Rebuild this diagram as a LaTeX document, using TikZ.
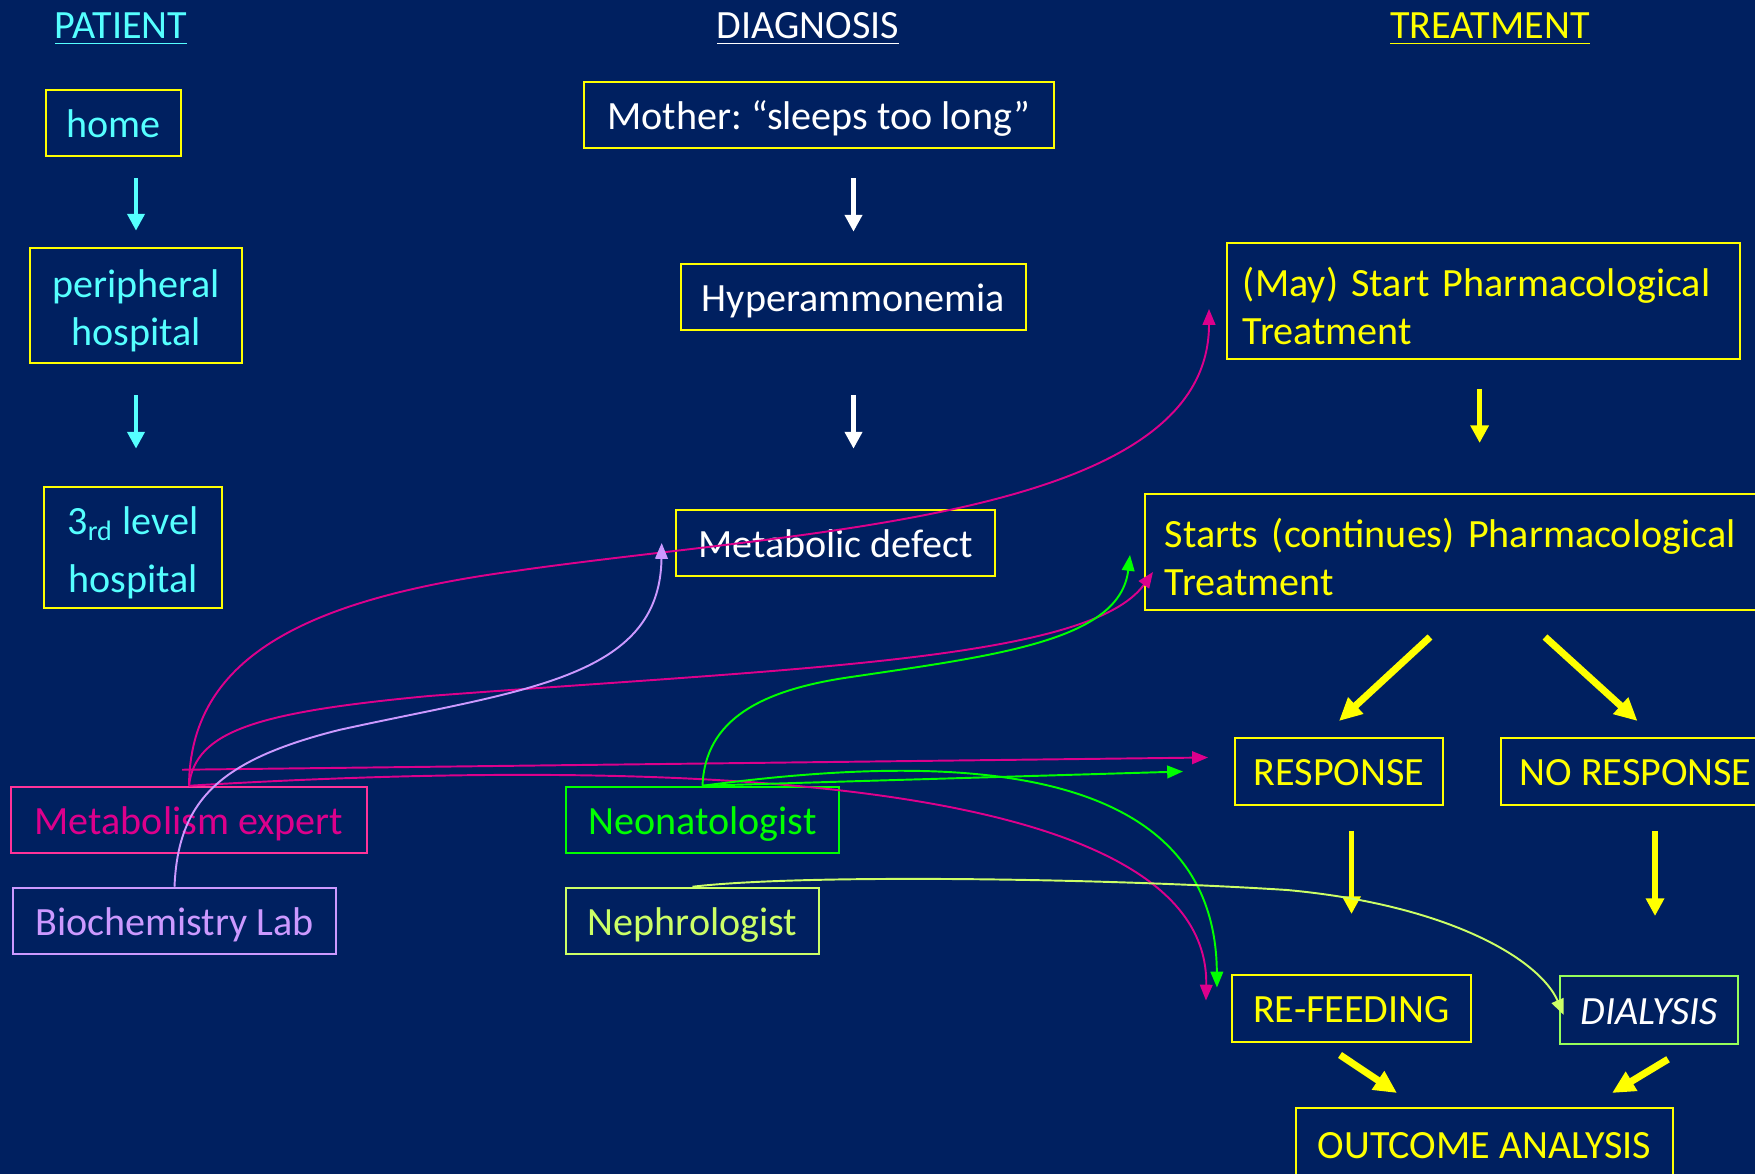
\documentclass[tikz,border=0pt]{standalone}
\usepackage{fontspec}
\setmainfont{Carlito}
\usepackage{tikz}
\usetikzlibrary{arrows.meta,positioning,calc}
\definecolor{navybg}{RGB}{0,32,96}
\definecolor{ptcyan}{RGB}{85,255,255}
\definecolor{dgyellow}{RGB}{255,255,0}
\definecolor{mexline}{RGB}{220,0,140}
\definecolor{mexbox}{RGB}{255,51,153}
\definecolor{mextext}{RGB}{220,0,140}
\definecolor{biolav}{RGB}{204,153,255}
\definecolor{neogreen}{RGB}{0,255,0}
\definecolor{nephlime}{RGB}{204,255,102}
\definecolor{dialgreen}{RGB}{150,255,90}
\newcommand{\firstline}{\rule{0pt}{11pt}}
\frenchspacing

\begin{document}
\begin{tikzpicture}[x=0.01cm, y=-0.01cm,
    every node/.style={font=\fontsize{11.4}{13.7}\selectfont},
    hdr/.style={inner sep=0pt},
    oneline/.style={text height=0.85em, text depth=0.05em},
    ybox/.style={rectangle, draw=dgyellow, line width=0.7pt,
                 inner sep=0pt, align=center},
    tbox/.style={rectangle, draw=dgyellow, line width=0.55pt,
                 inner sep=0pt, align=center, text=dgyellow, oneline},
    wide/.style={rectangle, draw=dgyellow, line width=0.55pt, inner ysep=0pt,
                 text=dgyellow, anchor=west, align=left, minimum height=1.16cm},
    rolebox/.style={rectangle, line width=0.7pt, inner sep=0pt,
                 minimum height=0.66cm, oneline},
    ptarr/.style={ptcyan, line width=1.4pt, -{Triangle[length=4.8pt,width=4.8pt]}},
    dgarr/.style={white, line width=1.4pt, -{Triangle[length=4.8pt,width=4.8pt]}},
    trarr/.style={dgyellow, line width=1.6pt, -{Triangle[length=5pt,width=5pt]}},
    trdiag/.style={dgyellow, line width=2pt, -{Triangle[length=6.5pt,width=6pt]}},
    link/.style={line width=0.55pt, -{Triangle[length=4.5pt,width=3.6pt]}},
  ]
  \useasboundingbox (0,0) rectangle (1755,1174);
  \clip (0,0) rectangle (1755,1174);
  \fill[navybg] (0,0) rectangle (1755,1174);

  % Naslovi stupaca
  \node[hdr, text=ptcyan] (hpat) at (121,29) {\underline{PATIENT}};
  \node[hdr, text=white] (hdia) at (808,29) {\underline{DIAGNOSIS}};
  \node[hdr, text=dgyellow] (htre) at (1490,29) {\underline{TREATMENT}};

  % Pacijent
  \node[ybox, oneline, text=ptcyan, minimum width=1.35cm, minimum height=0.66cm]
    (home) at (113.5,123) {home};
  \node[ybox, text=ptcyan, minimum width=2.12cm, minimum height=1.15cm]
    (periph) at (136,305.5) {\firstline peripheral\\hospital};
  \node[ybox, text=ptcyan, minimum width=1.78cm, minimum height=1.21cm]
    (third) at (133,547.5) {\firstline 3\textsubscript{rd} level\\[3pt]hospital};

  \draw[ptarr, shorten <=0.21cm, shorten >=0.16cm] (periph.north |- home.south) -- (periph.north);
  \draw[ptarr, shorten <=0.31cm, shorten >=0.37cm] (periph.south) -- (periph.south |- third.north);

  % Dijagnoza
  \node[ybox, oneline, text=white, minimum width=4.70cm, minimum height=0.66cm]
    (mother) at (819,115) {Mother: “sleeps too long”};
  \node[ybox, oneline, text=white, minimum width=3.45cm, minimum height=0.66cm]
    (hyper) at (853.5,297) {Hyperammonemia};
  \node[ybox, oneline, text=white, minimum width=3.19cm, minimum height=0.66cm]
    (mdef) at (835.5,543) {Metabolic defect};

  \draw[dgarr, shorten <=0.29cm, shorten >=0.31cm] (hyper.north |- mother.south) -- (hyper.north);
  \draw[dgarr, shorten <=0.64cm, shorten >=0.60cm] (hyper.south) -- (hyper.south |- mdef.north);

  % Terapija
  \node[wide, text width=4.81cm, inner xsep=0.16cm]
    (maystart) at (1226,301) {\firstline(May) Start Pharmacological\\Treatment};
  \node[wide, text width=6.0cm, inner xsep=0.20cm]
    (starts) at (1144,552) {\firstline Starts (continues) Pharmacological\\Treatment};
  \node[tbox, minimum width=2.08cm, minimum height=0.67cm]
    (resp) at (1339,771.5) {RESPONSE};
  \node[tbox, minimum width=2.69cm, minimum height=0.67cm]
    (noresp) at (1635.5,771.5) {NO RESPONSE};
  \node[tbox, minimum width=2.39cm, minimum height=0.67cm]
    (refeed) at (1351.5,1008.5) {RE-FEEDING};
  \node[tbox, draw=dialgreen, line width=0.7pt, text=white, minimum width=1.78cm, minimum height=0.68cm]
    (dialysis) at (1649,1010) {\itshape DIALYSIS};
  \node[tbox, minimum width=3.77cm, minimum height=0.72cm]
    (outcome) at (1484.5,1144) {OUTCOME ANALYSIS};

  \draw[trarr] ($(maystart.south)+(-4,29)$) -- ($(maystart.south |- starts.north)+(-4,-50)$);
  \draw[trdiag] ($(resp.north)+(91,-100)$) -- ($(resp.north)+(0,-16)$);
  \draw[trdiag] ($(noresp.north)+(-90.5,-100)$) -- ($(noresp.north)+(2,-16)$);
  \draw[trarr] ($(refeed.north |- resp.south)+(0,25)$) -- ($(refeed.north)+(0,-60)$);
  \draw[trarr] ($(noresp.south)+(19.5,25)$) -- ($(noresp.south)+(19.5,110)$);
  \draw[trdiag] ($(refeed.south)+(-11.5,12)$) -- ($(outcome.north)+(-87.5,-14)$);
  \draw[trdiag] ($(dialysis.south)+(19,14)$) -- ($(outcome.north)+(127.5,-14)$);

  % Strucnjaci
  \node[rolebox, draw=mexbox, text=mextext, minimum width=3.56cm]
    (mexp) at (189,820) {Metabolism expert};
  \node[rolebox, draw=biolav, text=biolav, minimum width=3.23cm]
    (biolab) at (174.5,921) {Biochemistry Lab};
  \node[rolebox, draw=neogreen, text=neogreen, minimum width=2.73cm]
    (neo) at (702.5,820) {Neonatologist};
  \node[rolebox, draw=nephlime, text=nephlime, minimum width=2.53cm]
    (neph) at (692.5,921) {Nephrologist};

  % Veze strucnjaka
  \draw[link, mexline] (mexp.north) .. controls (190,660) and (300,600) .. (515,571)
    .. controls (800,530) and (1209,520) .. ($(maystart.west)+(-17,8)$);
  \draw[link, mexline] (mexp.north) .. controls (195,730) and (260,712) .. (429,696)
    .. controls (800,668) and (1090,660) .. ($(starts.west)+(9,20)$);
  \draw[link, mexline] ($(mexp.north)+(-7,-16)$) -- ($(resp.west)+(-26,-14)$);
  \draw[link, mexline] (mexp.north) .. controls (700,755) and (1210,780) .. ($(refeed.west)+(-25,-8)$);

  \draw[link, biolav] (biolab.north) .. controls (178,800) and (220,760) .. (339,730)
    .. controls (520,690) and (660,680) .. ($(mdef.west)+(-13,0)$);

  \draw[link, neogreen] (neo.north) .. controls (705,720) and (760,690) .. (851,677)
    .. controls (1000,655) and (1120,640) .. ($(starts.west)+(-14,3)$);
  \draw[link, neogreen] (neo.north) -- ($(resp.west)+(-51,0)$);
  \draw[link, neogreen] (neo.north) .. controls (900,760) and (1215,740) .. ($(refeed.west)+(-14,-21)$);

  \draw[link, nephlime] (neph.north) .. controls (800,874) and (1100,878) .. (1287,890)
    .. controls (1450,905) and (1540,960) .. ($(dialysis.west)+(5,5)$);
\end{tikzpicture}
\end{document}
